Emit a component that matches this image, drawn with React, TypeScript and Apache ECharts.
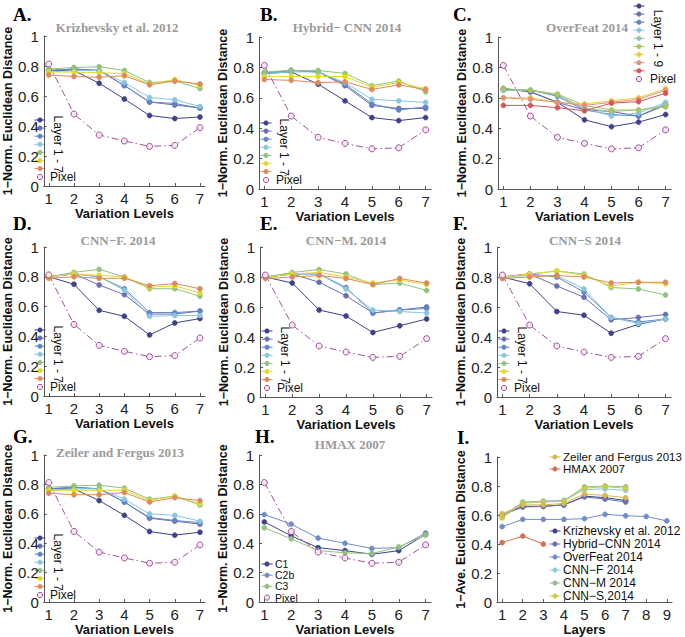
import { useEffect, useRef } from "react";
import * as echarts from "echarts";

// ---------- data ----------
const levels = [1, 2, 3, 4, 5, 6, 7];
const layerNumbers = [1, 2, 3, 4, 5, 6, 7, 8, 9];

const pixelValues = [0.813, 0.48, 0.34, 0.3, 0.264, 0.271, 0.389];

const krizhevskyLayers = [
  [0.77, 0.77, 0.685, 0.58, 0.47, 0.45, 0.46],
  [0.77, 0.78, 0.77, 0.67, 0.56, 0.54, 0.52],
  [0.77, 0.78, 0.77, 0.67, 0.56, 0.55, 0.52],
  [0.76, 0.77, 0.77, 0.69, 0.59, 0.575, 0.53],
  [0.78, 0.79, 0.795, 0.77, 0.69, 0.7, 0.65],
  [0.76, 0.76, 0.755, 0.75, 0.68, 0.71, 0.67],
  [0.74, 0.73, 0.725, 0.735, 0.675, 0.7, 0.68],
];
const hybridLayers = [
  [0.76, 0.77, 0.69, 0.58, 0.47, 0.45, 0.47],
  [0.76, 0.78, 0.77, 0.68, 0.55, 0.53, 0.53],
  [0.76, 0.78, 0.77, 0.69, 0.56, 0.52, 0.54],
  [0.76, 0.77, 0.77, 0.7, 0.59, 0.58, 0.57],
  [0.77, 0.78, 0.78, 0.76, 0.68, 0.71, 0.64],
  [0.74, 0.74, 0.74, 0.74, 0.67, 0.7, 0.66],
  [0.72, 0.715, 0.7, 0.705, 0.655, 0.685, 0.655],
];
const overfeatLayers = [
  [0.66, 0.64, 0.57, 0.455, 0.41, 0.44, 0.49],
  [0.66, 0.64, 0.57, 0.52, 0.51, 0.48, 0.55],
  [0.65, 0.65, 0.61, 0.52, 0.49, 0.48, 0.56],
  [0.65, 0.65, 0.62, 0.53, 0.48, 0.5, 0.57],
  [0.65, 0.65, 0.62, 0.53, 0.51, 0.52, 0.55],
  [0.66, 0.65, 0.625, 0.55, 0.52, 0.52, 0.54],
  [0.6, 0.6, 0.57, 0.56, 0.58, 0.6, 0.66],
  [0.6, 0.59, 0.57, 0.55, 0.57, 0.59, 0.65],
  [0.55, 0.55, 0.535, 0.515, 0.565, 0.575, 0.63],
];
const cnnFLayers = [
  [0.8, 0.75, 0.575, 0.535, 0.41, 0.49, 0.52],
  [0.8, 0.82, 0.745, 0.68, 0.55, 0.55, 0.57],
  [0.8, 0.82, 0.8, 0.72, 0.56, 0.56, 0.57],
  [0.8, 0.82, 0.8, 0.71, 0.535, 0.54, 0.54],
  [0.8, 0.83, 0.85, 0.8, 0.72, 0.72, 0.67],
  [0.8, 0.82, 0.81, 0.8, 0.73, 0.74, 0.69],
  [0.79, 0.8, 0.79, 0.79, 0.74, 0.755, 0.72],
];
const cnnMLayers = [
  [0.8, 0.76, 0.58, 0.54, 0.43, 0.475, 0.52],
  [0.8, 0.82, 0.765, 0.675, 0.56, 0.58, 0.6],
  [0.8, 0.82, 0.82, 0.73, 0.56, 0.58, 0.59],
  [0.8, 0.82, 0.82, 0.72, 0.58, 0.57, 0.56],
  [0.8, 0.83, 0.85, 0.82, 0.75, 0.76, 0.71],
  [0.8, 0.82, 0.83, 0.8, 0.76, 0.78, 0.75],
  [0.79, 0.8, 0.81, 0.79, 0.75, 0.79, 0.76],
];
const cnnSLayers = [
  [0.8, 0.755, 0.57, 0.545, 0.425, 0.485, 0.52],
  [0.8, 0.82, 0.74, 0.665, 0.515, 0.53, 0.55],
  [0.8, 0.82, 0.8, 0.7, 0.53, 0.5, 0.52],
  [0.8, 0.81, 0.81, 0.72, 0.53, 0.49, 0.52],
  [0.8, 0.82, 0.84, 0.82, 0.73, 0.72, 0.68],
  [0.8, 0.82, 0.84, 0.81, 0.74, 0.765, 0.755],
  [0.79, 0.8, 0.81, 0.8, 0.76, 0.765, 0.765],
];
const zeilerLayers = [
  [0.77, 0.77, 0.69, 0.59, 0.48, 0.455, 0.475],
  [0.77, 0.78, 0.77, 0.68, 0.57, 0.55, 0.53],
  [0.77, 0.78, 0.77, 0.68, 0.575, 0.555, 0.54],
  [0.76, 0.77, 0.77, 0.7, 0.6, 0.59, 0.55],
  [0.78, 0.79, 0.795, 0.775, 0.7, 0.72, 0.66],
  [0.76, 0.76, 0.76, 0.76, 0.69, 0.72, 0.67],
  [0.74, 0.73, 0.73, 0.745, 0.68, 0.71, 0.69],
];
const hmaxNames = ["C1", "C2b", "C3"];
const hmaxLayers = [
  [0.545, 0.45, 0.37, 0.35, 0.325, 0.35, 0.46],
  [0.595, 0.53, 0.435, 0.4, 0.365, 0.37, 0.47],
  [0.505, 0.43, 0.35, 0.335, 0.33, 0.375, 0.455],
];

// panel I: average over variation levels per layer
const summaryNames = [
  "Krizhevsky et al. 2012",
  "Hybrid−CNN 2014",
  "OverFeat 2014",
  "CNN−F 2014",
  "CNN−M 2014",
  "CNN−S 2014",
  "Zeiler and Fergus 2013",
  "HMAX 2007",
];
const summaryValues = [
  [0.6, 0.66, 0.66, 0.67, 0.73, 0.72, 0.7],
  [0.6, 0.655, 0.66, 0.67, 0.725, 0.71, 0.69],
  [0.52, 0.57, 0.57, 0.57, 0.575, 0.605, 0.595, 0.59, 0.56],
  [0.59, 0.685, 0.695, 0.7, 0.775, 0.78, 0.77],
  [0.59, 0.69, 0.695, 0.7, 0.795, 0.8, 0.795],
  [0.58, 0.68, 0.69, 0.695, 0.785, 0.795, 0.785],
  [0.61, 0.67, 0.67, 0.68, 0.745, 0.735, 0.72],
  [0.41, 0.455, 0.4],
];

// ---------- styles ----------
const layerColors7 = ["#3f4189", "#6a6fb3", "#5f86c6", "#8ac6df", "#92c27e", "#e0da2e", "#de8a5a"];
const layerColors9 = ["#3f4189", "#6a6fb3", "#5f86c6", "#8ac6df", "#8fc6a6", "#a9c662", "#e2d03e", "#e0927a", "#d45656"];
const hmaxColors = ["#3f4189", "#6f8ec8", "#92c27e"];
const summaryColors = ["#3f4189", "#6a6fb3", "#6f8ec8", "#8ec8e0", "#90c090", "#c8cc40", "#d8b850", "#d07050"];
const pixelColor = "#a0509a";
const pixelFill = "#f8e6f5";

const SANS = "'Liberation Sans', Arial, sans-serif";
const SERIF = "'Liberation Serif', 'Times New Roman', serif";

type Panel = {
  key: string;
  letter: string;
  title: string;
  grid: { left: number; top: number; width: number; height: number };
  letterPos: [number, number];
  titlePos: [number, number];
};

const panels: Panel[] = [
  { key: "A", letter: "A.", title: "Krizhevsky et al. 2012", grid: { left: 33, top: 36, width: 172, height: 150 }, letterPos: [13, 14], titlePos: [117, 27] },
  { key: "B", letter: "B.", title: "Hybrid− CNN 2014", grid: { left: 259, top: 37, width: 172, height: 152 }, letterPos: [260, 14], titlePos: [347, 27] },
  { key: "C", letter: "C.", title: "OverFeat 2014", grid: { left: 498, top: 37, width: 173, height: 152 }, letterPos: [453, 14], titlePos: [587, 27] },
  { key: "D", letter: "D.", title: "CNN−F. 2014", grid: { left: 33, top: 247, width: 172, height: 149 }, letterPos: [13, 223], titlePos: [118, 240] },
  { key: "E", letter: "E.", title: "CNN−M. 2014", grid: { left: 260, top: 247, width: 172, height: 150 }, letterPos: [260, 223], titlePos: [346, 240] },
  { key: "F", letter: "F.", title: "CNN−S 2014", grid: { left: 497, top: 247, width: 174, height: 150 }, letterPos: [453, 223], titlePos: [585, 240] },
  { key: "G", letter: "G.", title: "Zeiler and Fergus 2013", grid: { left: 33, top: 455, width: 172, height: 149 }, letterPos: [13, 436], titlePos: [120, 452] },
  { key: "H", letter: "H.", title: "HMAX 2007", grid: { left: 259, top: 455, width: 172, height: 150 }, letterPos: [255, 436], titlePos: [350, 444] },
  { key: "I", letter: "I.", title: "", grid: { left: 497, top: 457, width: 175, height: 149 }, letterPos: [457, 437], titlePos: [0, 0] },
];

const panelLayers: Record<string, number[][]> = {
  A: krizhevskyLayers,
  B: hybridLayers,
  C: overfeatLayers,
  D: cnnFLayers,
  E: cnnMLayers,
  F: cnnSLayers,
  G: zeilerLayers,
};

function lineSeries(name: string, values: number[], xs: number[], color: string, idx: number) {
  return {
    type: "line",
    name,
    xAxisIndex: idx,
    yAxisIndex: idx,
    data: values.map((v, i) => [xs[i], v]),
    symbol: "circle",
    symbolSize: 5,
    lineStyle: { color, width: 1 },
    itemStyle: { color, borderColor: color, borderWidth: 0.6 },
    emphasis: { disabled: true },
  };
}

function pixelSeries(name: string, idx: number) {
  return {
    type: "line",
    name,
    xAxisIndex: idx,
    yAxisIndex: idx,
    data: pixelValues.map((v, i) => [levels[i], v]),
    symbol: "circle",
    symbolSize: 6,
    lineStyle: { color: pixelColor, width: 1, type: [7, 3, 1.5, 3] },
    itemStyle: { color: pixelFill, borderColor: pixelColor, borderWidth: 1 },
    emphasis: { disabled: true },
  };
}

// legend key drawn as graphic: short line + marker (+ optional text)
function legendKey(
  cx: number,
  cy: number,
  color: string,
  open: boolean,
  text?: string,
  textDx = 9,
  fontSize = 12,
  lineHeight = 13
) {
  const children: any[] = [];
  if (!open) {
    children.push({
      type: "line",
      shape: { x1: cx - 5.5, y1: cy, x2: cx + 5.5, y2: cy },
      style: { stroke: color, lineWidth: 1 },
    });
    children.push({
      type: "circle",
      shape: { cx, cy, r: 2.3 },
      style: { fill: color, stroke: color, lineWidth: 0.5 },
    });
  } else {
    children.push({
      type: "circle",
      shape: { cx, cy, r: 2.6 },
      style: { fill: pixelFill, stroke: pixelColor, lineWidth: 1 },
    });
  }
  if (text) {
    children.push({
      type: "text",
      x: cx + textDx,
      y: cy,
      style: {
        text,
        fontFamily: SANS,
        fontSize,
        lineHeight,
        fill: "#111",
        textAlign: "left",
        textVerticalAlign: "middle",
        align: "left",
        verticalAlign: "middle",
      },
    });
  }
  return { type: "group", silent: true, children };
}

function buildOption() {
  const grids: any[] = [];
  const xAxes: any[] = [];
  const yAxes: any[] = [];
  const series: any[] = [];
  const graphics: any[] = [];

  const axisColor = "#555";
  const tickLabel = { fontSize: 15, color: "#222", fontFamily: SANS, margin: 5 };
  const nameStyle = { fontWeight: "bold", fontSize: 13, color: "#111", fontFamily: SANS };

  panels.forEach((p, idx) => {
    grids.push({ ...p.grid });
    const isSummary = p.key === "I";
    const ticks = isSummary ? layerNumbers : levels;
    xAxes.push({
      type: "value",
      gridIndex: idx,
      min: isSummary ? 0.75 : 0.8,
      max: isSummary ? 9.25 : 7.2,
      axisLabel: { ...tickLabel, customValues: ticks },
      axisTick: { customValues: ticks, inside: true, length: 3, lineStyle: { color: axisColor } },
      axisLine: { lineStyle: { color: axisColor, width: 1 } },
      splitLine: { show: false },
      name: isSummary ? "Layers" : "Variation Levels",
      nameLocation: "middle",
      nameGap: 20,
      nameTextStyle: nameStyle,
    });
    yAxes.push({
      type: "value",
      gridIndex: idx,
      min: 0,
      max: 1,
      interval: 0.2,
      axisLabel: tickLabel,
      axisTick: { show: true, inside: true, length: 3, lineStyle: { color: axisColor } },
      axisLine: { show: true, lineStyle: { color: axisColor, width: 1 } },
      splitLine: { show: false },
      name: isSummary ? "1−Ave. Euclidean Distance" : "1−Norm. Euclidean Distance",
      nameLocation: "middle",
      nameRotate: 90,
      nameGap: 21,
      nameTextStyle: { ...nameStyle, fontSize: 12.5 },
    });

    graphics.push({
      type: "text",
      x: p.letterPos[0],
      y: p.letterPos[1],
      style: {
        text: p.letter,
        fontFamily: SERIF,
        fontWeight: "bold",
        fontSize: 19,
        fill: "#000",
        textAlign: "left",
        textVerticalAlign: "middle",
        align: "left",
        verticalAlign: "middle",
      },
    });
    if (p.title) {
      graphics.push({
        type: "text",
        x: p.titlePos[0],
        y: p.titlePos[1],
        style: {
          text: p.title,
          fontFamily: SERIF,
          fontWeight: "bold",
          fontSize: 13,
          fill: "#9a9a9a",
          textAlign: "center",
          textVerticalAlign: "middle",
          align: "center",
          verticalAlign: "middle",
        },
      });
    }

    const bottom = p.grid.top + p.grid.height;

    if (panelLayers[p.key]) {
      const layers = panelLayers[p.key];
      const colors = layers.length === 9 ? layerColors9 : layerColors7;
      layers.forEach((vals, i) => series.push(lineSeries(`${p.key}-Layer${i + 1}`, vals, levels, colors[i], idx)));
      series.push(pixelSeries(`${p.key}-Pixel`, idx));

      let cx: number, firstCy: number, pixelCy: number, labelX: number, pixelDx: number;
      const step = 8.1;
      if (p.key === "C") {
        cx = 639;
        firstCy = 6;
        pixelCy = 79;
        labelX = 658;
        pixelDx = 11;
      } else {
        cx = p.grid.left + 7;
        firstCy = bottom - 66;
        pixelCy = bottom - 9;
        labelX = p.grid.left + 25;
        pixelDx = 10;
      }
      layers.forEach((_, i) => graphics.push(legendKey(cx, firstCy + i * step, colors[i], false)));
      graphics.push(legendKey(cx, pixelCy, pixelColor, true, "Pixel", pixelDx));
      const lastCy = firstCy + (layers.length - 1) * step;
      graphics.push({
        type: "text",
        x: labelX,
        y: (firstCy + lastCy) / 2,
        rotation: -Math.PI / 2,
        style: {
          text: `Layer 1 - ${layers.length}`,
          fontFamily: SANS,
          fontSize: 12,
          fill: "#111",
          textAlign: "center",
          textVerticalAlign: "middle",
          align: "center",
          verticalAlign: "middle",
        },
      });
    } else if (p.key === "H") {
      hmaxLayers.forEach((vals, i) => series.push(lineSeries(hmaxNames[i], vals, levels, hmaxColors[i], idx)));
      series.push(pixelSeries("H-Pixel", idx));
      const cx = p.grid.left + 8;
      hmaxNames.forEach((n, i) =>
        graphics.push(legendKey(cx, 564 + i * 11.2, hmaxColors[i], false, n, 8, 10.5, 10.5))
      );
      graphics.push(legendKey(cx, 597.6, pixelColor, true, "Pixel", 8, 10.5, 10.5));
    } else if (isSummary) {
      summaryValues.forEach((vals, i) =>
        series.push(lineSeries(summaryNames[i], vals, layerNumbers, summaryColors[i], idx))
      );
      const cx = 555;
      [6, 7].forEach((k, i) =>
        graphics.push(legendKey(cx, 457 + i * 12, summaryColors[k], false, summaryNames[k], 8, 11.5, 12))
      );
      [0, 1, 2, 3, 4, 5].forEach((k, i) =>
        graphics.push(legendKey(cx, 531 + i * 13, summaryColors[k], false, summaryNames[k], 8, 12, 13))
      );
    }
  });

  return {
    animation: false,
    backgroundColor: "#fff",
    textStyle: { fontFamily: SANS },
    grid: grids,
    xAxis: xAxes,
    yAxis: yAxes,
    series,
    graphic: graphics,
  };
}

export default function App() {
  const ref = useRef<HTMLDivElement>(null);
  useEffect(() => {
    document.body.style.margin = "0";
    if (!ref.current) return;
    const chart = echarts.init(ref.current, undefined, { renderer: "svg" });
    chart.setOption(buildOption() as any);
    return () => chart.dispose();
  }, []);
  return <div ref={ref} style={{ width: 685, height: 637 }} />;
}
